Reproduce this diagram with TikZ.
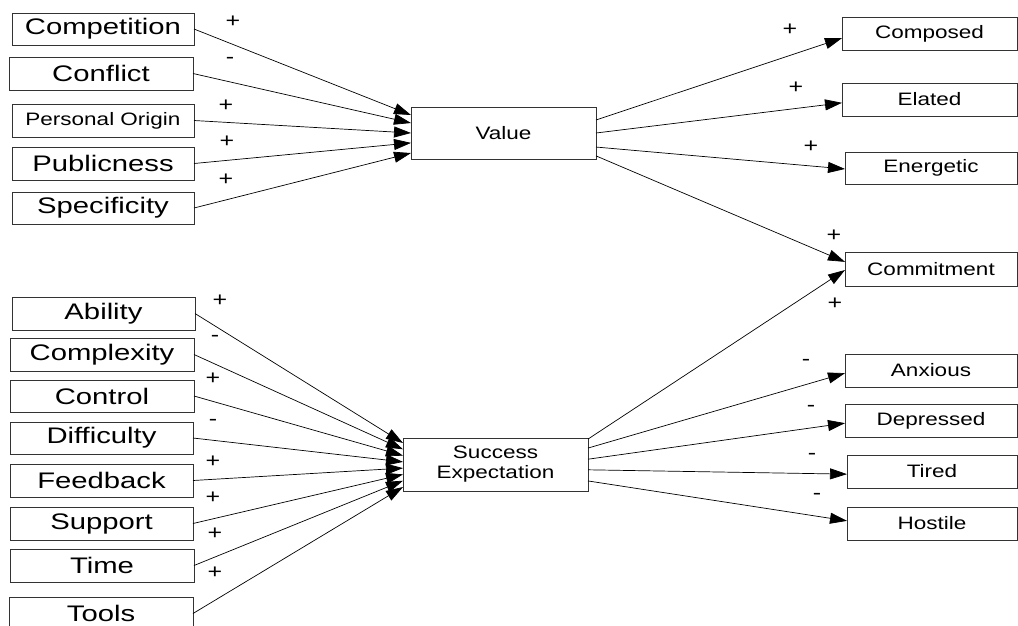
\documentclass[tikz,border=0pt]{standalone}
\usepackage{fontspec}
\setmainfont{Liberation Sans}
\newfontfamily\bigface[FakeStretch=1.3]{Liberation Sans}
\newfontfamily\smallface[FakeStretch=1.25]{Liberation Sans}
\usetikzlibrary{arrows.meta,calc}
\begin{document}
\begin{tikzpicture}[x=1pt,y=-1pt,
  box/.style={draw=black!80,line width=0.8pt,rectangle,inner sep=0pt,outer sep=0pt,align=center},
  bigbox/.style={box,font=\bigface\fontsize{22.5}{24}\selectfont},
  smallbox/.style={box,font=\smallface\fontsize{18}{20}\selectfont},
  sign/.style={inner sep=0pt,font=\smallface\fontsize{20}{20}\selectfont},
  arr/.style={line width=0.7pt,-{Triangle[length=17pt,width=11pt]}}]
\useasboundingbox (0,0) rectangle (1018,625);
\clip (0,0) rectangle (1018,625);

% determinants of value
\node[bigbox,minimum width=182pt,minimum height=32pt] (comp) at (103,29) {Competition};
\node[bigbox,minimum width=184pt,minimum height=33pt] (conf) at (101,73.5) {Conflict};
\node[smallbox,minimum width=182pt,minimum height=33pt] (porig) at (103,120.5) {Personal Origin};
\node[bigbox,minimum width=182pt,minimum height=33pt] (publ) at (103,163.5) {Publicness};
\node[bigbox,minimum width=182pt,minimum height=32pt] (spec) at (103,208) {Specificity};

% determinants of success expectation
\node[bigbox,minimum width=183pt,minimum height=33pt] (abil) at (103.5,313.5) {Ability};
\node[bigbox,minimum width=184pt,minimum height=33pt] (cplx) at (102,354.5) {Complexity};
\node[bigbox,minimum width=184pt,minimum height=32pt] (ctrl) at (102,396) {Control};
\node[bigbox,minimum width=183pt,minimum height=32pt] (diff) at (101.5,438) {Difficulty};
\node[bigbox,minimum width=183pt,minimum height=33pt] (feed) at (101.5,480.5) {Feedback};
\node[bigbox,minimum width=183pt,minimum height=33pt] (supp) at (101.5,523.5) {Support};
\node[bigbox,minimum width=184pt,minimum height=33pt] (time) at (102,565.5) {Time};
\node[bigbox,minimum width=184pt,minimum height=33pt] (tools) at (101,613.5) {Tools};

% central constructs
\node[smallbox,minimum width=185pt,minimum height=52pt] (value) at (503.5,133) {Value};
\node[smallbox,minimum width=185pt,minimum height=53pt] (se) at (495.5,464.5) {Success\\Expectation};

% outcomes
\node[smallbox,minimum width=175pt,minimum height=33pt] (compd) at (929.5,33.5) {Composed};
\node[smallbox,minimum width=175pt,minimum height=33pt] (elat) at (929.5,99.5) {Elated};
\node[smallbox,minimum width=172pt,minimum height=32pt] (energ) at (931,168) {Energetic};
\node[smallbox,minimum width=172pt,minimum height=34pt] (commit) at (931,269) {Commitment};
\node[smallbox,minimum width=172pt,minimum height=33pt] (anx) at (931,370.5) {Anxious};
\node[smallbox,minimum width=172pt,minimum height=33pt] (dep) at (931,420.5) {Depressed};
\node[smallbox,minimum width=170pt,minimum height=33pt] (tired) at (932,471.5) {Tired};
\node[smallbox,minimum width=170pt,minimum height=33pt] (host) at (932,523.5) {Hostile};

% links into value
\draw[arr] (comp.east)  -- ($(value.north west)!0.154!(value.south west)$);
\draw[arr] (conf.east)  -- ($(value.north west)!0.308!(value.south west)$);
\draw[arr] (porig.east) -- ($(value.north west)!0.5!(value.south west)$);
\draw[arr] (publ.east)  -- ($(value.north west)!0.69!(value.south west)$);
\draw[arr] (spec.east)  -- ($(value.north west)!0.885!(value.south west)$);

% links into success expectation
\draw[arr] (abil.east)  -- ($(se.north west)!0.094!(se.south west)$);
\draw[arr] (cplx.east)  -- ($(se.north west)!0.213!(se.south west)$);
\draw[arr] (ctrl.east)  -- ($(se.north west)!0.332!(se.south west)$);
\draw[arr] (diff.east)  -- ($(se.north west)!0.451!(se.south west)$);
\draw[arr] (feed.east)  -- ($(se.north west)!0.568!(se.south west)$);
\draw[arr] (supp.east)  -- ($(se.north west)!0.687!(se.south west)$);
\draw[arr] (time.east)  -- ($(se.north west)!0.806!(se.south west)$);
\draw[arr] (tools.east) -- ($(se.north west)!0.925!(se.south west)$);

% links out of value
\draw[arr] ($(value.north east)!0.25!(value.south east)$) -- ($(compd.north west)!0.64!(compd.south west)$);
\draw[arr] ($(value.north east)!0.5!(value.south east)$)  -- ($(elat.north west)!0.6!(elat.south west)$);
\draw[arr] ($(value.north east)!0.77!(value.south east)$) -- ($(energ.north west)!0.53!(energ.south west)$);
\draw[arr] ($(value.north east)!0.94!(value.south east)$) -- ($(commit.north west)!0.29!(commit.south west)$);

% links out of success expectation
\draw[arr] ($(se.north east)!0.02!(se.south east)$) -- ($(commit.north west)!0.53!(commit.south west)$);
\draw[arr] ($(se.north east)!0.19!(se.south east)$) -- ($(anx.north west)!0.58!(anx.south west)$);
\draw[arr] ($(se.north east)!0.4!(se.south east)$)  -- ($(dep.north west)!0.58!(dep.south west)$);
\draw[arr] ($(se.north east)!0.6!(se.south east)$)  -- ($(tired.north west)!0.58!(tired.south west)$);
\draw[arr] ($(se.north east)!0.81!(se.south east)$) -- ($(host.north west)!0.42!(host.south west)$);

% signs of the effects
\node[sign] (s1) at (233,22) {+};
\node[sign] (s2) at (230,60) {-};
\node[sign] (s3) at (226,106) {+};
\node[sign] (s4) at (227,142) {+};
\node[sign] (s5) at (226,180) {+};
\node[sign] (s6) at (220,301) {+};
\node[sign] (s7) at (215,338) {-};
\node[sign] (s8) at (213,379) {+};
\node[sign] (s9) at (213,422) {-};
\node[sign] (s10) at (213,462) {+};
\node[sign] (s11) at (213,498) {+};
\node[sign] (s12) at (215,534) {+};
\node[sign] (s13) at (215,573) {+};
\node[sign] (s14) at (790,30) {+};
\node[sign] (s15) at (796,88) {+};
\node[sign] (s16) at (811,147) {+};
\node[sign] (s17) at (834,236) {+};
\node[sign] (s18) at (835,304) {+};
\node[sign] (s19) at (806,362) {-};
\node[sign] (s20) at (811,408) {-};
\node[sign] (s21) at (812,456) {-};
\node[sign] (s22) at (817,496) {-};
\end{tikzpicture}
\end{document}
